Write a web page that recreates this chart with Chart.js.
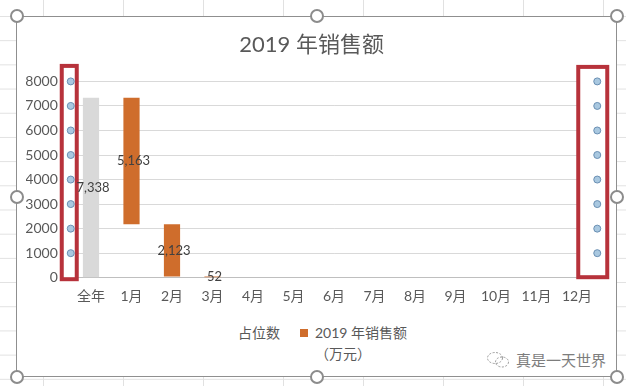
<!DOCTYPE html>
<html>
<head>
<meta charset="utf-8">
<script src="https://cdn.jsdelivr.net/npm/chart.js@4"></script>
<style>
  html, body { margin: 0; padding: 0; }
  body {
    width: 626px; height: 386px; position: relative; overflow: hidden;
    background-color: #fff;
    background-image:
      linear-gradient(to right, #e1e1e1 1px, transparent 1px),
      linear-gradient(to bottom, #e1e1e1 1px, transparent 1px);
    background-size: 80px 24.2px;
    background-position: 43px 16px;
    font-family: Lato, "Noto Sans CJK SC", sans-serif;
  }
  .frame {
    position: absolute; left: 16px; top: 16px; width: 601px; height: 361px;
    background: #fff; box-sizing: border-box; border: 1.5px solid #8f8f8f;
  }
  .box { position: absolute; left: 0; top: 0; width: 601px; height: 305px; }
  .handle {
    position: absolute; width: 10px; height: 10px; border-radius: 50%;
    background: #fff; border: 2px solid #8c8c8c; margin: -7px 0 0 -7px;
  }
  #legend {
    position: absolute; left: 0; top: 305px; width: 601px; box-sizing: border-box;
    padding-left: 18px;
    display: flex; justify-content: center; gap: 20px;
    font-size: 14px; color: #595959; line-height: 21px;
  }
  #legend .item { display: flex; align-items: flex-start; }
  #legend .sw { width: 8px; height: 8px; margin: 7px 7px 0 0; }
  #legend .txt { max-width: 100px; }
  .mark {
    position: absolute; right: 10px; bottom: 6px; color: #7d7d7d;
    font-size: 15px; display: flex; align-items: center; gap: 6px;
  }
</style>
</head>
<body>
<div class="frame">
  <div class="box"><canvas id="chart"></canvas></div>
  <div id="legend"></div>
  <div class="mark">
    <svg width="24" height="18" viewBox="0 0 24 18" fill="none" stroke="#9a9a9a" stroke-width="1" stroke-dasharray="2 1.5">
      <ellipse cx="9" cy="7" rx="7.5" ry="5.5"/>
      <ellipse cx="16" cy="11" rx="6.5" ry="5"/>
    </svg>
    <span>真是一天世界</span>
  </div>
</div>
<div class="handle" style="left:17px;top:16px"></div>
<div class="handle" style="left:317px;top:16px"></div>
<div class="handle" style="left:617px;top:16px"></div>
<div class="handle" style="left:17px;top:197px"></div>
<div class="handle" style="left:617px;top:197px"></div>
<div class="handle" style="left:17px;top:377px"></div>
<div class="handle" style="left:317px;top:377px"></div>
<div class="handle" style="left:617px;top:377px"></div>

<script>
const categories = ['全年', '1月', '2月', '3月', '4月', '5月', '6月', '7月', '8月', '9月', '10月', '11月', '12月']
const placeholder = [0, 2175, 52, 0, null, null, null, null, null, null, null, null, null]
const sales = [7338, 5163, 2123, 52, null, null, null, null, null, null, null, null, null]
const yTicks = [0, 1000, 2000, 3000, 4000, 5000, 6000, 7000, 8000]
const dotValues = [1000, 2000, 3000, 4000, 5000, 6000, 7000, 8000]
const leftDotX = -0.5
const rightDotX = 12.5

const grey = '#d9d9d9'
const orange = '#cf6d2c'
const textColor = '#595959'

// red marker boxes around the two dot columns
const markerBoxes = {
  id: 'markerBoxes',
  beforeDatasetsDraw(chart) {
    const {ctx} = chart
    const x2 = chart.scales.x2
    const y = chart.scales.y
    const boxes = [
      {cx: x2.getPixelForValue(leftDotX), l: 9, r: 6, t: 15.5, b: 1.5},
      {cx: x2.getPixelForValue(rightDotX), l: 19, r: 10, t: 14.5, b: -0.5}
    ]
    ctx.save()
    boxes.forEach(bx => {
      const top = y.getPixelForValue(8000) - bx.t
      const bottom = y.getPixelForValue(0) + bx.b
      ctx.fillStyle = '#fff'
      ctx.fillRect(bx.cx - bx.l, top, bx.l + bx.r, bottom - top)
      ctx.strokeStyle = '#b7323b'
      ctx.lineWidth = 4
      ctx.strokeRect(bx.cx - bx.l, top, bx.l + bx.r, bottom - top)
    })
    ctx.restore()
  }
}

// value labels centred on each sales bar
const barLabels = {
  id: 'barLabels',
  afterDatasetsDraw(chart) {
    const {ctx} = chart
    const meta = chart.getDatasetMeta(1)
    ctx.save()
    ctx.font = '13px Lato, "Noto Sans CJK SC"'
    ctx.fillStyle = '#404040'
    ctx.textAlign = 'center'
    ctx.textBaseline = 'middle'
    meta.data.forEach((bar, i) => {
      const v = sales[i]
      if (v == null) return
      ctx.fillText(v.toLocaleString('en-US'), bar.x + 2, (bar.y + bar.base) / 2)
    })
    ctx.restore()
  }
}

const chart = new Chart(document.getElementById('chart'), {
  data: {
    labels: categories,
    datasets: [
      {
        type: 'bar',
        label: '占位数',
        data: placeholder,
        backgroundColor: 'rgba(0,0,0,0)',
        grouped: false,
        barPercentage: 0.4,
        categoryPercentage: 1
      },
      {
        type: 'bar',
        label: '2019 年销售额（万元）',
        data: sales,
        backgroundColor: categories.map((c, i) => i === 0 ? grey : orange),
        legendColor: orange,
        grouped: false,
        barPercentage: 0.4,
        categoryPercentage: 1
      },
      {
        type: 'scatter',
        label: 'left',
        data: dotValues.map(v => ({x: leftDotX, y: v})),
        xAxisID: 'x2',
        yAxisID: 'y2',
        pointRadius: 3.5,
        pointBackgroundColor: '#a9c8e0',
        pointBorderColor: '#6a8fb3',
        pointBorderWidth: 1,
        clip: false
      },
      {
        type: 'scatter',
        label: 'right',
        data: dotValues.map(v => ({x: rightDotX, y: v})),
        xAxisID: 'x2',
        yAxisID: 'y2',
        pointRadius: 3.5,
        pointBackgroundColor: '#a9c8e0',
        pointBorderColor: '#6a8fb3',
        pointBorderWidth: 1,
        clip: false
      }
    ]
  },
  options: {
    responsive: true,
    maintainAspectRatio: false,
    animation: false,
    layout: {padding: {left: 9, right: 20.75, bottom: 15.5}},
    plugins: {
      legend: {display: false},
      tooltip: {enabled: false},
      title: {
        display: true,
        text: '2019 年销售额',
        color: textColor,
        font: {size: 22, family: 'Lato, "Noto Sans CJK SC"', weight: 'normal'},
        padding: {top: 15, bottom: 23}
      }
    },
    scales: {
      x: {
        stacked: true,
        offset: true,
        grid: {display: false},
        border: {display: true, color: '#bfbfbf'},
        ticks: {color: textColor, padding: 2, font: {size: 14, family: 'Lato, "Noto Sans CJK SC"'}}
      },
      x2: {type: 'linear', display: false, min: leftDotX, max: rightDotX},
      y: {
        stacked: true,
        min: 0,
        max: 8000,
        afterBuildTicks: scale => { scale.ticks = yTicks.map(v => ({value: v})) },
        afterFit: scale => { scale.width = 44.75 },
        grid: {color: ctx => ctx.tick && ctx.tick.value === 0 ? '#bfbfbf' : '#d9d9d9', drawTicks: false},
        border: {display: false},
        ticks: {color: textColor, padding: 13, font: {size: 14, family: 'Lato'}, callback: v => String(v)}
      },
      y2: {display: false, min: 0, max: 8000}
    }
  },
  plugins: [markerBoxes, barLabels]
})

// html legend, only the two bar series
const legend = document.getElementById('legend')
chart.data.datasets.slice(0, 2).forEach(ds => {
  const item = document.createElement('div')
  item.className = 'item'
  if (ds.legendColor) {
    const sw = document.createElement('span')
    sw.className = 'sw'
    sw.style.background = ds.legendColor
    item.appendChild(sw)
  }
  const txt = document.createElement('span')
  txt.className = 'txt'
  txt.textContent = ds.label
  item.appendChild(txt)
  legend.appendChild(item)
})
</script>
</body>
</html>
